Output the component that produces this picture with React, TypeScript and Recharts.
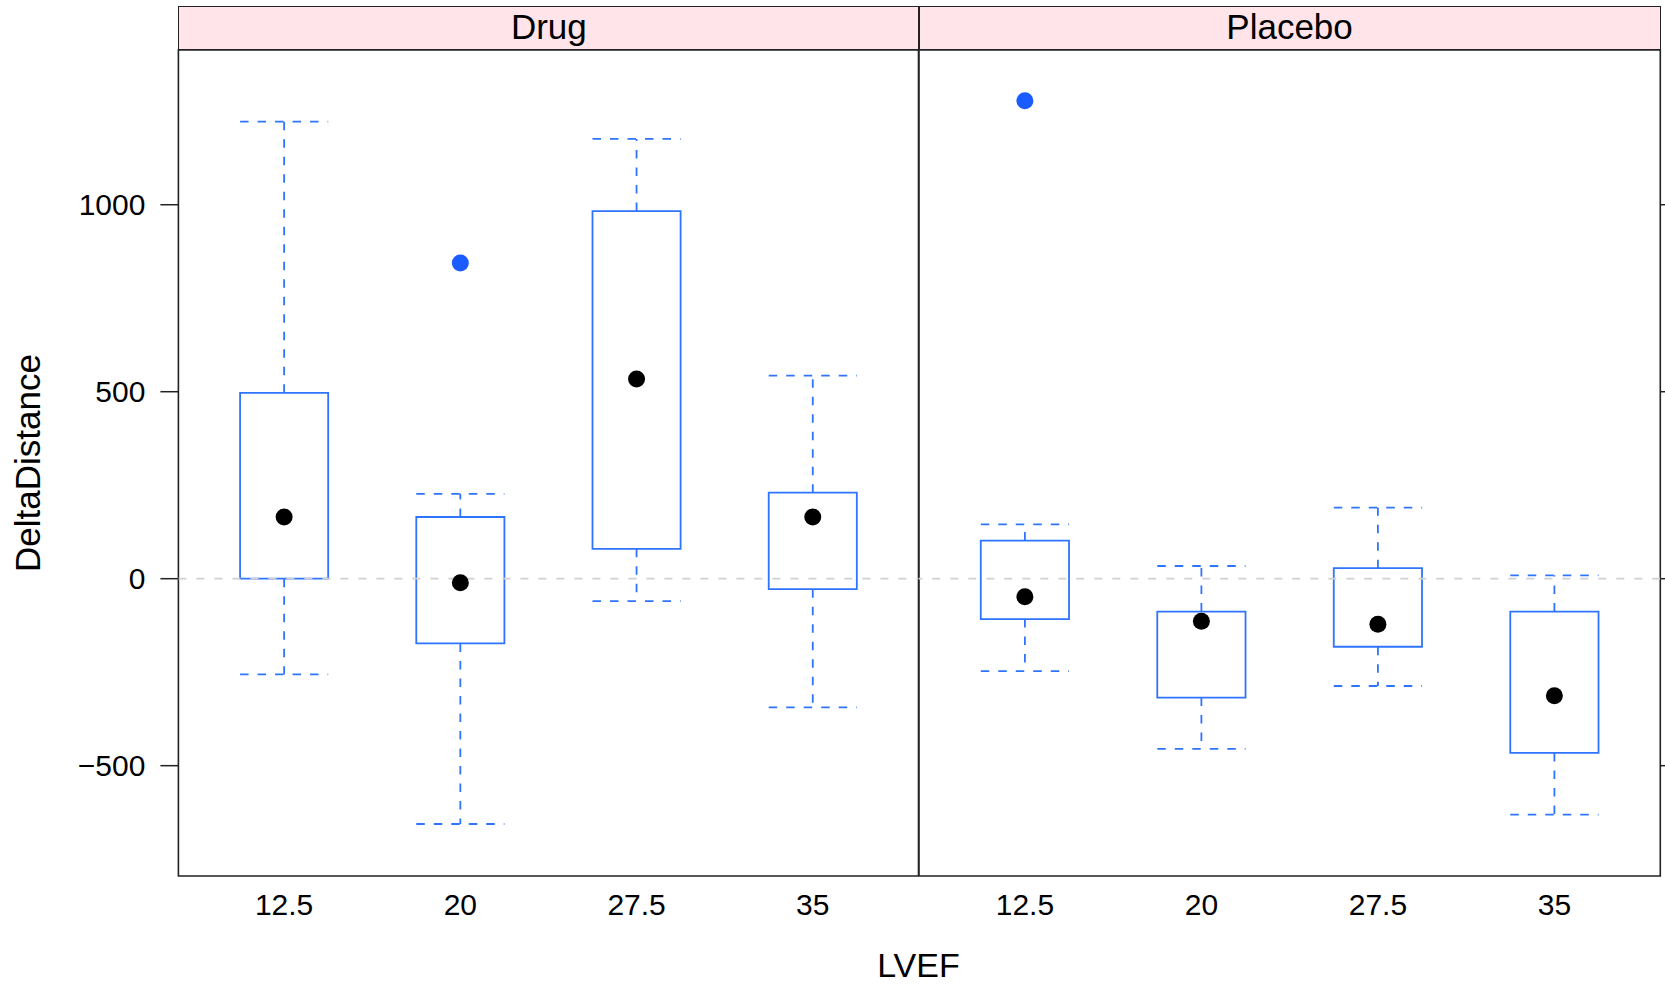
import React from 'react';
import { ScatterChart, Scatter, XAxis, YAxis, ReferenceArea, ReferenceLine } from 'recharts';

const lvefLevels = ['12.5', '20', '27.5', '35'];
const yTicks = [-500, 0, 500, 1000];
const yDomain = [-795, 1414];

const drugLower = [-256, -656, -60, -344];
const drugQ1 = [0, -173, 80, -28];
const drugMedian = [165, -11, 534, 165];
const drugQ3 = [497, 165, 983, 230];
const drugUpper = [1222, 227, 1176, 543];
const drugOutliers = [{ level: '20', value: 844 }];

const placeboLower = [-247, -455, -287, -631];
const placeboQ1 = [-108, -318, -182, -466];
const placeboMedian = [-48, -114, -122, -313];
const placeboQ3 = [102, -88, 28, -88];
const placeboUpper = [145, 34, 190, 9];
const placeboOutliers = [{ level: '12.5', value: 1278 }];

const FONT = '"Liberation Sans", Arial, Helvetica, sans-serif';
const BOX = '#2f74ff';
const OUT = '#1a5cff';
const HALF = 0.25;
const DASH = '8.5 9';

const H = 984;
const PLOT_TOP = 49.9;
const PLOT_BOTTOM = 876;

type PanelProps = {
  lower: number[]; q1: number[]; median: number[]; q3: number[]; upper: number[];
  outliers: { level: string; value: number }[];
  left: number; width: number; plotLeft: number; plotRight: number; first: boolean;
};

function fmtY(v: number) {
  return v < 0 ? '\u2212' + String(-v) : String(v);
}

function Panel(p: PanelProps) {
  const medPts = lvefLevels.map((l, i) => ({ x: i + 1, y: p.median[i] }));
  const outPts = p.outliers.map((o) => ({ x: lvefLevels.indexOf(o.level) + 1, y: o.value }));
  const yAxisW = p.first ? 100 : 5.5;
  const marginLeft = p.first ? p.plotLeft - yAxisW : 0;
  const marginRight = p.first ? p.width - p.plotRight : 0;
  return (
    <div style={{ position: 'absolute', left: p.left, top: 0 }}>
      <ScatterChart
        width={p.width}
        height={H}
        margin={{ top: PLOT_TOP, bottom: H - PLOT_BOTTOM - 60, left: marginLeft, right: marginRight }}
      >
        <XAxis
          type="number"
          dataKey="x"
          domain={[0.4, 4.6]}
          ticks={[1, 2, 3, 4]}
          allowDataOverflow
          axisLine={false}
          tickLine={false}
          tickSize={0}
          tickMargin={18}
          height={60}
          tickFormatter={(v: number) => lvefLevels[v - 1]}
          tick={{ fill: '#000', fontSize: 30, fontFamily: FONT }}
          interval={0}
        />
        {p.first ? (
          <YAxis
            type="number"
            dataKey="y"
            domain={yDomain}
            ticks={yTicks}
            allowDataOverflow
            width={yAxisW}
            axisLine={false}
            tickSize={18}
            tickMargin={15}
            tickLine={{ stroke: '#222', strokeWidth: 1.5 }}
            tickFormatter={fmtY}
            tick={{ fill: '#000', fontSize: 30, fontFamily: FONT }}
            interval={0}
          />
        ) : (
          <YAxis
            type="number"
            dataKey="y"
            orientation="right"
            domain={yDomain}
            ticks={yTicks}
            allowDataOverflow
            width={yAxisW}
            axisLine={false}
            tickSize={8}
            tickLine={{ stroke: '#222', strokeWidth: 1.5 }}
            tickFormatter={() => ''}
            interval={0}
          />
        )}
        <ReferenceLine y={0} stroke="#d0d0d0" strokeWidth={1.8} strokeDasharray="8 10" />
        {lvefLevels.map((l, i) => (
          <ReferenceArea
            key={'box' + i}
            x1={i + 1 - HALF}
            x2={i + 1 + HALF}
            y1={p.q1[i]}
            y2={p.q3[i]}
            fill="none"
            fillOpacity={0}
            stroke={BOX}
            strokeWidth={1.8}
          />
        ))}
        {lvefLevels.map((l, i) => (
          <ReferenceLine
            key={'wu' + i}
            segment={[{ x: i + 1, y: p.q3[i] }, { x: i + 1, y: p.upper[i] }]}
            stroke={BOX}
            strokeWidth={1.8}
            strokeDasharray={DASH}
          />
        ))}
        {lvefLevels.map((l, i) => (
          <ReferenceLine
            key={'wl' + i}
            segment={[{ x: i + 1, y: p.q1[i] }, { x: i + 1, y: p.lower[i] }]}
            stroke={BOX}
            strokeWidth={1.8}
            strokeDasharray={DASH}
          />
        ))}
        {lvefLevels.map((l, i) => (
          <ReferenceLine
            key={'cu' + i}
            segment={[{ x: i + 1 - HALF, y: p.upper[i] }, { x: i + 1 + HALF, y: p.upper[i] }]}
            stroke={BOX}
            strokeWidth={1.8}
            strokeDasharray={DASH}
          />
        ))}
        {lvefLevels.map((l, i) => (
          <ReferenceLine
            key={'cl' + i}
            segment={[{ x: i + 1 - HALF, y: p.lower[i] }, { x: i + 1 + HALF, y: p.lower[i] }]}
            stroke={BOX}
            strokeWidth={1.8}
            strokeDasharray={DASH}
          />
        ))}
        <ReferenceArea x1={0.4} x2={4.6} y1={yDomain[0]} y2={yDomain[1]} fill="none" fillOpacity={0} stroke="#222" strokeWidth={1.6} />
        <Scatter
          data={medPts}
          isAnimationActive={false}
          shape={(s: any) => <circle cx={s.cx} cy={s.cy} r={8.5} fill="#000" />}
        />
        <Scatter
          data={outPts}
          isAnimationActive={false}
          shape={(s: any) => <circle cx={s.cx} cy={s.cy} r={8.5} fill={OUT} />}
        />
      </ScatterChart>
    </div>
  );
}

function Strip({ left, width, label }: { left: number; width: number; label: string }) {
  return (
    <div
      style={{
        position: 'absolute',
        left,
        top: 6.4,
        width,
        height: PLOT_TOP - 6.4,
        boxSizing: 'border-box',
        background: '#ffe5ea',
        border: '1.6px solid #222',
        fontFamily: FONT,
        fontSize: 35,
        color: '#000',
        textAlign: 'center',
        lineHeight: PLOT_TOP - 6.4 - 3 + 'px',
      }}
    >
      {label}
    </div>
  );
}

export default function App() {
  const drugLeft = 178.4;
  const mid = 918.5;
  const right = 1659.8;
  return (
    <div style={{ position: 'absolute', left: 0, top: 0, width: 1665, height: 984, background: '#fff', overflow: 'hidden' }}>
      <Panel
        lower={drugLower} q1={drugQ1} median={drugMedian} q3={drugQ3} upper={drugUpper}
        outliers={drugOutliers}
        left={0} width={mid + 0.8} plotLeft={drugLeft} plotRight={mid} first={true}
      />
      <Panel
        lower={placeboLower} q1={placeboQ1} median={placeboMedian} q3={placeboQ3} upper={placeboUpper}
        outliers={placeboOutliers}
        left={mid} width={right - mid + 5.5} plotLeft={0} plotRight={right - mid} first={false}
      />
      <Strip left={drugLeft} width={mid - drugLeft + 0.8} label="Drug" />
      <Strip left={mid} width={right - mid + 0.8} label="Placebo" />
      <div
        style={{
          position: 'absolute', left: 818.5, width: 200, top: 943, textAlign: 'center',
          fontFamily: FONT, fontSize: 34, color: '#000', lineHeight: '44px',
        }}
      >
        LVEF
      </div>
      <div
        style={{
          position: 'absolute', left: 27.6 - 200, top: 463 - 22, width: 400, height: 44,
          textAlign: 'center', fontFamily: FONT, fontSize: 35, color: '#000', lineHeight: '44px',
          transform: 'rotate(-90deg)', transformOrigin: '200px 22px', whiteSpace: 'nowrap',
        }}
      >
        DeltaDistance
      </div>
    </div>
  );
}
